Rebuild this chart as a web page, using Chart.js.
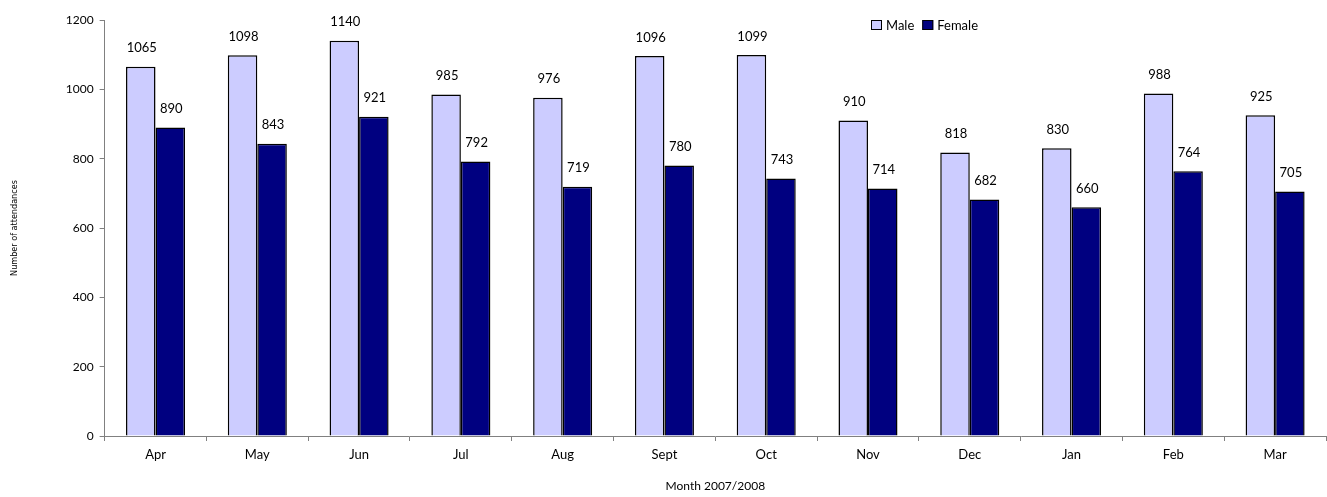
<!DOCTYPE html>
<html>
<head>
<meta charset="utf-8">
<script src="https://cdn.jsdelivr.net/npm/chart.js@4"></script>
<style>
  body { margin: 0; background: #fff; }
  #wrap { width: 1327px; height: 497px; }
</style>
</head>
<body>
<div id="wrap"><canvas id="myChart"></canvas></div>
<script>
const months = ['Apr', 'May', 'Jun', 'Jul', 'Aug', 'Sept', 'Oct', 'Nov', 'Dec', 'Jan', 'Feb', 'Mar']
const male = [1065, 1098, 1140, 985, 976, 1096, 1099, 910, 818, 830, 988, 925]
const female = [890, 843, 921, 792, 719, 780, 743, 714, 682, 660, 764, 705]
const yTicks = [0, 200, 400, 600, 800, 1000, 1200]

const FONT = 'Lato, "Open Sans", sans-serif'

// numbers above each bar
const valueLabels = {
  id: 'valueLabels',
  afterDatasetsDraw(chart) {
    const ctx = chart.ctx
    ctx.save()
    ctx.font = '13px ' + FONT
    ctx.fillStyle = '#000'
    ctx.textAlign = 'center'
    ctx.textBaseline = 'bottom'
    chart.data.datasets.forEach((ds, i) => {
      chart.getDatasetMeta(i).data.forEach((bar, j) => {
        ctx.fillText(ds.data[j], bar.x + 1, bar.y - 12)
      })
    })
    ctx.restore()
  }
}

// small legend inside the plot, top right
const boxLegend = {
  id: 'boxLegend',
  afterDraw(chart) {
    const ctx = chart.ctx
    ctx.save()
    ctx.font = '13px ' + FONT
    ctx.textBaseline = 'middle'
    let x = 871, y = 25
    chart.data.datasets.forEach(ds => {
      ctx.fillStyle = ds.backgroundColor
      ctx.fillRect(x, y - 5, 11, 10)
      ctx.strokeStyle = '#000'
      ctx.lineWidth = 1
      ctx.strokeRect(x + 0.5, y - 4.5, 10, 9)
      ctx.fillStyle = '#000'
      ctx.fillText(ds.label, x + 15, y + 1)
      x += 15 + ctx.measureText(ds.label).width + 8
    })
    ctx.restore()
  }
}

const ctx = document.getElementById('myChart').getContext('2d')
const chart = new Chart(ctx, {
  type: 'bar',
  data: {
    labels: months,
    datasets: [{
      label: 'Male',
      backgroundColor: '#ccccff',
      borderColor: '#000',
      borderWidth: 1.5,
      data: male
    }, {
      label: 'Female',
      backgroundColor: '#000080',
      borderColor: '#000',
      borderWidth: 1.5,
      data: female
    }]
  },
  options: {
    responsive: true,
    maintainAspectRatio: false,
    animation: false,
    layout: { padding: { top: 20, right: 1, bottom: 0, left: 5 } },
    datasets: { bar: { categoryPercentage: 0.58, barPercentage: 1.0 } },
    plugins: {
      legend: { display: false },
      tooltip: { enabled: false }
    },
    scales: {
      x: {
        grid: { offset: true, drawOnChartArea: false, tickLength: 5, color: '#808080' },
        border: { color: '#808080' },
        ticks: { font: { family: FONT, size: 13 }, color: '#000', padding: 6 },
        title: { display: true, text: 'Month 2007/2008', font: { family: FONT, size: 12 }, color: '#000', padding: { top: 10, bottom: 4 } }
      },
      y: {
        min: 0,
        max: 1200,
        afterBuildTicks(axis) { axis.ticks = yTicks.map(v => ({ value: v })) },
        grid: { drawOnChartArea: false, tickLength: 5, color: '#808080' },
        border: { color: '#808080' },
        ticks: { font: { family: FONT, size: 12 }, color: '#000', padding: 6, callback: v => String(v) },
        title: { display: true, text: 'Number of attendances', font: { family: '"Liberation Sans Narrow", "DejaVu Sans Condensed", sans-serif', size: 9 }, color: '#000', padding: { bottom: 40 } }
      }
    }
  },
  plugins: [valueLabels, boxLegend]
})
</script>
</body>
</html>
